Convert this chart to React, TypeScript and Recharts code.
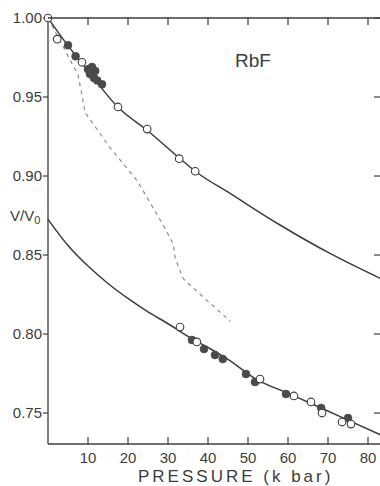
import React from 'react'
import {
  ComposedChart,
  Line,
  Scatter,
  XAxis,
  YAxis,
} from 'recharts'

// V/V0 of RbF versus pressure (kbar)
const upperCurve = [
  { p: 0, v: 1.0 },
  { p: 5, v: 0.9825 },
  { p: 10, v: 0.9665 },
  { p: 17.5, v: 0.9435 },
  { p: 25, v: 0.9285 },
  { p: 33, v: 0.911 },
  { p: 36.8, v: 0.903 },
  { p: 45.5, v: 0.889 },
  { p: 58, v: 0.869 },
  { p: 70.5, v: 0.851 },
  { p: 83.25, v: 0.835 },
]

const lowerCurve = [
  { p: 0, v: 0.8726 },
  { p: 5, v: 0.856 },
  { p: 10, v: 0.843 },
  { p: 15, v: 0.832 },
  { p: 20, v: 0.8225 },
  { p: 25, v: 0.814 },
  { p: 30, v: 0.8065 },
  { p: 35, v: 0.7985 },
  { p: 40, v: 0.7915 },
  { p: 45, v: 0.784 },
  { p: 52, v: 0.7715 },
  { p: 60, v: 0.7625 },
  { p: 68, v: 0.7535 },
  { p: 75, v: 0.7455 },
  { p: 83.25, v: 0.736 },
]

const dashedCurve = [
  { p: 0, v: 1.0 },
  { p: 7.5, v: 0.964 },
  { p: 8.5, v: 0.951 },
  { p: 9.3, v: 0.94 },
  { p: 15.5, v: 0.918 },
  { p: 22.3, v: 0.897 },
  { p: 28.8, v: 0.869 },
  { p: 31.3, v: 0.857 },
  { p: 31.8, v: 0.848 },
  { p: 33.8, v: 0.835 },
  { p: 38.1, v: 0.825 },
  { p: 45.6, v: 0.808 },
]

const upperOpen = [
  { p: 0, v: 1.0 },
  { p: 2.3, v: 0.9866 },
  { p: 8.5, v: 0.972 },
  { p: 17.5, v: 0.9437 },
  { p: 24.8, v: 0.9297 },
  { p: 32.8, v: 0.911 },
  { p: 36.8, v: 0.903 },
]

const upperFilled = [
  { p: 5, v: 0.9828 },
  { p: 6.9, v: 0.9758 },
  { p: 10, v: 0.9675 },
  { p: 11, v: 0.969 },
  { p: 10.5, v: 0.9645 },
  { p: 11.8, v: 0.9665 },
  { p: 11.5, v: 0.962 },
  { p: 12.3, v: 0.9605 },
  { p: 13.5, v: 0.958 },
]

const lowerOpen = [
  { p: 33, v: 0.8044 },
  { p: 37.2, v: 0.795 },
  { p: 53, v: 0.7715 },
  { p: 61.5, v: 0.7608 },
  { p: 65.75, v: 0.757 },
  { p: 68.5, v: 0.75 },
  { p: 73.5, v: 0.7443 },
  { p: 75.75, v: 0.743 },
]

const lowerFilled = [
  { p: 36, v: 0.7962 },
  { p: 39, v: 0.7905 },
  { p: 41.75, v: 0.7867 },
  { p: 43.7, v: 0.7842 },
  { p: 49.5, v: 0.7747 },
  { p: 51.75, v: 0.7696 },
  { p: 59.5, v: 0.762 },
  { p: 68.3, v: 0.7532 },
  { p: 75, v: 0.7468 },
]

const xTicks = [10, 20, 30, 40, 50, 60, 70, 80]
const yTicks = [0.75, 0.8, 0.85, 0.9, 0.95, 1.0]

const xMax = 83.25
const yMin = 0.7304
const yMax = 1.0

// plot box (px) — the top/right frame is drawn from the axis tick renderers
const plotLeft = 48
const plotTop = 18
const plotRight = 381

const ink = '#3c3c3c'
const font = '"Liberation Sans", Arial, sans-serif'

function OpenDot(props: any) {
  const { cx, cy } = props
  return <circle cx={cx} cy={cy} r={3.8} fill="#fff" stroke={ink} strokeWidth={1.1} />
}

function FilledDot(props: any) {
  const { cx, cy } = props
  return <circle cx={cx} cy={cy} r={4} fill="#4a4a4a" stroke="#4a4a4a" strokeWidth={0.5} />
}

// bottom axis: inward tick, label below, plus the matching tick on the top edge
function BottomTick(props: any) {
  const { x, y, payload } = props
  return (
    <g>
      <line x1={x} x2={x} y1={y} y2={y - 7} stroke={ink} strokeWidth={1.2} />
      <line x1={x} x2={x} y1={plotTop} y2={plotTop + 7} stroke={ink} strokeWidth={1.2} />
      <text x={x} y={y + 19} textAnchor="middle" fill={ink} fontSize={15} fontFamily={font}>
        {payload.value}
      </text>
    </g>
  )
}

// left axis label, plus the inward tick on the right edge and the top border
function LeftTick(props: any) {
  const { x, y, payload } = props
  const value = Number(payload.value)
  return (
    <g>
      {value === yMax && (
        <line x1={plotLeft} x2={plotRight} y1={y} y2={y} stroke={ink} strokeWidth={1.3} />
      )}
      <line x1={plotRight - 7} x2={plotRight} y1={y} y2={y} stroke={ink} strokeWidth={1.2} />
      <text x={x} y={y} dy={5} textAnchor="end" fill={ink} fontSize={15} fontFamily={font}>
        {value.toFixed(2)}
      </text>
    </g>
  )
}

export default function App() {
  return (
    <div
      style={{
        position: 'absolute',
        left: 0,
        top: 0,
        width: 380,
        height: 486,
        overflow: 'hidden',
        background: '#fff',
      }}
    >
      <ComposedChart
        width={387}
        height={486}
        margin={{ top: plotTop, right: 6, bottom: 0, left: 0 }}
      >
        <XAxis
          dataKey="p"
          type="number"
          domain={[0, xMax]}
          ticks={xTicks}
          height={42}
          tickSize={0}
          tickMargin={0}
          tickLine={false}
          tick={<BottomTick />}
          axisLine={{ stroke: ink, strokeWidth: 1.3 }}
        />
        <YAxis
          dataKey="v"
          type="number"
          domain={[yMin, yMax]}
          ticks={yTicks}
          width={plotLeft}
          tickSize={5}
          tickMargin={1}
          tick={<LeftTick />}
          tickLine={{ stroke: ink, strokeWidth: 1.2 }}
          axisLine={{ stroke: ink, strokeWidth: 1.3 }}
        />
        <Line
          data={dashedCurve}
          dataKey="v"
          type="linear"
          stroke="#8c8c8c"
          strokeWidth={1.2}
          strokeDasharray="4 4"
          dot={false}
          isAnimationActive={false}
        />
        <Line
          data={upperCurve}
          dataKey="v"
          type="monotone"
          stroke={ink}
          strokeWidth={1.5}
          dot={false}
          isAnimationActive={false}
        />
        <Line
          data={lowerCurve}
          dataKey="v"
          type="monotone"
          stroke={ink}
          strokeWidth={1.5}
          dot={false}
          isAnimationActive={false}
        />
        <Scatter data={upperFilled} dataKey="v" shape={<FilledDot />} isAnimationActive={false} />
        <Scatter data={lowerFilled} dataKey="v" shape={<FilledDot />} isAnimationActive={false} />
        <Scatter data={upperOpen} dataKey="v" shape={<OpenDot />} isAnimationActive={false} />
        <Scatter data={lowerOpen} dataKey="v" shape={<OpenDot />} isAnimationActive={false} />
      </ComposedChart>
      <div
        style={{
          position: 'absolute',
          left: 235,
          top: 50,
          fontFamily: font,
          fontSize: 19,
          color: ink,
          lineHeight: '22px',
        }}
      >
        RbF
      </div>
      <div
        style={{
          position: 'absolute',
          left: 10,
          top: 207,
          fontFamily: font,
          fontSize: 15,
          color: ink,
          lineHeight: '18px',
          whiteSpace: 'nowrap',
        }}
      >
        V/V<sub style={{ fontSize: 11, verticalAlign: -3 }}>0</sub>
      </div>
      <div
        style={{
          position: 'absolute',
          left: 138,
          top: 467,
          fontFamily: font,
          fontSize: 17,
          letterSpacing: 3,
          color: ink,
          lineHeight: '20px',
          whiteSpace: 'nowrap',
        }}
      >
        PRESSURE (k bar)
      </div>
    </div>
  )
}
